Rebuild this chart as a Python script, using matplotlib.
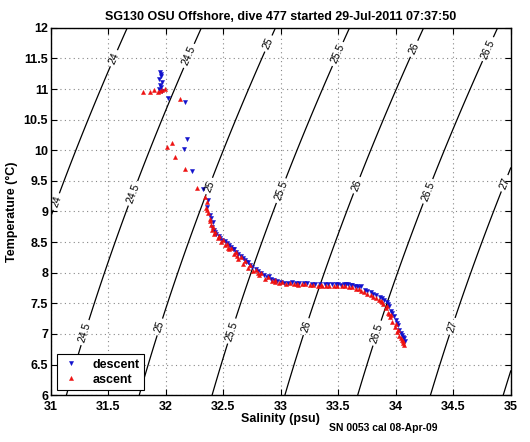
import numpy as np
import matplotlib
matplotlib.use("Agg")
import matplotlib.pyplot as plt

plt.rcParams["font.family"] = ["Liberation Sans", "DejaVu Sans"]

# descent (blue) salinity / temperature samples
desc_s = [31.95, 31.96, 31.94, 31.97, 31.95, 31.96, 31.94, 31.97, 31.96, 32.02,
          32.17, 32.18, 32.16, 32.23, 32.32, 32.37, 32.36, 32.38, 32.41, 32.40,
          32.43, 32.46, 32.49, 32.53, 32.57, 32.61, 32.65, 32.69, 32.73, 32.78,
          32.83, 32.88, 32.94, 33.00, 33.06, 33.13, 33.20, 33.27, 33.34, 33.41,
          33.48, 33.55, 33.61, 33.64, 33.68, 33.73, 33.78, 33.83, 33.88, 33.92,
          33.94, 33.96, 33.98, 34.00, 34.02, 34.03, 34.05, 34.07, 34.08, 33.70,
          33.58, 33.52, 33.10, 32.90, 32.70, 32.58,
          32.39, 32.42, 32.44, 32.47, 32.51, 32.55, 32.59, 32.63, 32.67, 32.71,
          32.75, 32.80, 32.85, 32.91, 32.97, 33.03, 33.16, 33.23, 33.30, 33.38,
          33.44, 33.50, 33.57, 33.62, 33.66, 33.75, 33.80, 33.86, 33.90, 33.93,
          33.97, 34.01, 34.04, 34.06]
desc_t = [11.28, 11.22, 11.17, 11.12, 11.07, 11.03, 11.00, 10.97, 11.25, 10.86,
          10.79, 10.19, 10.02, 9.66, 9.37, 9.19, 9.08, 8.95, 8.83, 8.74,
          8.66, 8.60, 8.54, 8.48, 8.42, 8.34, 8.27, 8.20, 8.13, 8.06,
          8.00, 7.93, 7.88, 7.85, 7.84, 7.83, 7.83, 7.82, 7.81, 7.81,
          7.81, 7.81, 7.80, 7.78, 7.76, 7.72, 7.68, 7.63, 7.58, 7.52,
          7.45, 7.38, 7.30, 7.22, 7.14, 7.06, 6.99, 6.93, 6.88, 7.78,
          7.82, 7.80, 7.85, 7.94, 8.17, 8.38,
          8.90, 8.70, 8.63, 8.57, 8.51, 8.45, 8.38, 8.31, 8.24, 8.17,
          8.10, 8.03, 7.97, 7.90, 7.86, 7.84, 7.84, 7.83, 7.82, 7.82,
          7.81, 7.82, 7.82, 7.80, 7.79, 7.70, 7.66, 7.60, 7.55, 7.49,
          7.34, 7.18, 7.02, 6.95]

# ascent (red)
asc_s = [31.80, 31.86, 31.90, 31.95, 31.99, 31.93, 31.97, 32.12, 32.05, 32.01,
         32.08, 32.17, 32.27, 32.34, 32.36, 32.35, 32.37, 32.38, 32.39, 32.40,
         32.42, 32.45, 32.48, 32.51, 32.55, 32.59, 32.63, 32.67, 32.71, 32.76,
         32.81, 32.86, 32.92, 32.98, 33.04, 33.11, 33.18, 33.25, 33.32, 33.39,
         33.46, 33.53, 33.59, 33.65, 33.70, 33.75, 33.80, 33.85, 33.89, 33.91,
         33.93, 33.95, 33.97, 33.99, 34.01, 34.03, 34.05, 34.06, 34.07, 32.54,
         32.62, 32.80, 32.95, 33.15, 33.36, 33.87, 33.94, 34.00,
         32.36, 32.38, 32.41, 32.43, 32.46, 32.50, 32.53, 32.57, 32.61, 32.65,
         32.69, 32.73, 32.78, 32.83, 32.89, 32.95, 33.01, 33.08, 33.14, 33.21,
         33.28, 33.35, 33.42, 33.49, 33.56, 33.62, 33.68, 33.72, 33.78, 33.83,
         33.88, 33.92, 33.96, 34.02, 34.04, 34.06]
asc_t = [10.95, 10.96, 10.98, 10.97, 11.00, 10.95, 10.99, 10.84, 10.12, 10.06,
         9.89, 9.70, 9.39, 9.24, 9.15, 9.05, 8.98, 8.88, 8.78, 8.70,
         8.63, 8.56, 8.50, 8.45, 8.38, 8.30, 8.22, 8.15, 8.08, 8.02,
         7.96, 7.90, 7.86, 7.83, 7.82, 7.81, 7.81, 7.80, 7.79, 7.79,
         7.79, 7.78, 7.77, 7.74, 7.70, 7.66, 7.61, 7.55, 7.49, 7.42,
         7.35, 7.27, 7.19, 7.11, 7.03, 6.96, 6.90, 6.85, 6.82, 8.41,
         8.27, 7.99, 7.85, 7.80, 7.78, 7.53, 7.33, 7.16,
         9.02, 8.84, 8.74, 8.67, 8.60, 8.53, 8.47, 8.41, 8.34, 8.26,
         8.19, 8.12, 8.05, 7.99, 7.93, 7.88, 7.85, 7.83, 7.82, 7.81,
         7.80, 7.80, 7.79, 7.78, 7.78, 7.76, 7.73, 7.69, 7.64, 7.58,
         7.52, 7.46, 7.31, 7.07, 6.93, 6.88]

sig_levels = [24, 24.5, 25, 25.5, 26, 26.5, 27, 27.5]

# contour label positions (salinity, temperature)
label_pos = [(31.54, 11.51), (32.18, 11.56), (32.92, 11.72), (33.51, 11.56),
             (34.18, 11.64), (34.85, 11.61),
             (31.05, 9.16), (31.71, 9.30), (32.40, 9.40), (33.03, 9.32),
             (33.70, 9.40), (34.32, 9.30), (34.96, 9.45),
             (31.30, 7.02), (31.97, 7.10), (32.60, 7.03), (33.25, 7.10),
             (33.89, 6.98), (34.53, 7.10)]


def sigma0(s, t):
    # UNESCO EOS80 density at surface pressure, minus 1000
    rw = (999.842594 + 6.793952e-2 * t - 9.095290e-3 * t**2 + 1.001685e-4 * t**3
          - 1.120083e-6 * t**4 + 6.536332e-9 * t**5)
    a = 0.824493 - 4.0899e-3 * t + 7.6438e-5 * t**2 - 8.2467e-7 * t**3 + 5.3875e-9 * t**4
    b = -5.72466e-3 + 1.0227e-4 * t - 1.6546e-6 * t**2
    return rw + a * s + b * s**1.5 + 4.8314e-4 * s**2 - 1000.0


fig = plt.figure(figsize=(5.30, 4.42), dpi=100)
ax = fig.add_axes([0.096, 0.106, 0.868, 0.831])

sg, tg = np.meshgrid(np.linspace(31, 35, 200), np.linspace(6, 12, 200))
cs = ax.contour(sg, tg, sigma0(sg, tg), levels=sig_levels, colors="k", linewidths=0.9)
ax.clabel(cs, levels=sig_levels[:-1], manual=label_pos, fmt="%g", fontsize=7.5, inline=True,
          inline_spacing=3)

ax.plot(desc_s, desc_t, linestyle="none", marker="v", markersize=3.0,
        markeredgewidth=0.3, color="#1010cc", label="descent")
ax.plot(asc_s, asc_t, linestyle="none", marker="^", markersize=3.0,
        markeredgewidth=0.3, color="#ee1010", label="ascent")

ax.set_xlim(31, 35)
ax.set_ylim(6, 12)
ax.set_xticks(np.arange(31, 35.01, 0.5))
ax.set_yticks(np.arange(6, 12.01, 0.5))
ax.set_xticklabels(["31", "31.5", "32", "32.5", "33", "33.5", "34", "34.5", "35"])
ax.set_yticklabels(["6", "6.5", "7", "7.5", "8", "8.5", "9", "9.5", "10", "10.5",
                    "11", "11.5", "12"])
ax.tick_params(direction="in", top=True, right=True, length=4, labelsize=9)
ax.tick_params(axis="x", pad=4)
ax.tick_params(axis="y", pad=2)
for lab in ax.get_xticklabels() + ax.get_yticklabels():
    lab.set_fontweight("bold")
ax.grid(True, linestyle=(0, (1, 3)), color="#888888", linewidth=0.8)
for sp in ax.spines.values():
    sp.set_linewidth(1.0)

ax.set_xlabel("Salinity (psu)", fontsize=9, fontweight="bold", labelpad=0)
ax.set_ylabel("Temperature (\u00b0C)", fontsize=9, fontweight="bold", labelpad=4)
ax.set_title("SG130 OSU Offshore, dive 477 started 29-Jul-2011 07:37:50",
             fontsize=9, fontweight="bold", pad=6)

leg = ax.legend(loc="lower left", prop={"weight": "bold", "size": 9},
                markerscale=1.0, handlelength=1.6, handletextpad=0.9, borderpad=0.35,
                labelspacing=0.25, fancybox=False, edgecolor="k", framealpha=1,
                borderaxespad=0, bbox_to_anchor=(0.013, 0.014))
leg.get_frame().set_linewidth(0.8)

fig.text(0.62, 0.025, "SN 0053 cal 08-Apr-09", fontsize=7.5, fontweight="bold")

fig.savefig("out.png", dpi=100)
